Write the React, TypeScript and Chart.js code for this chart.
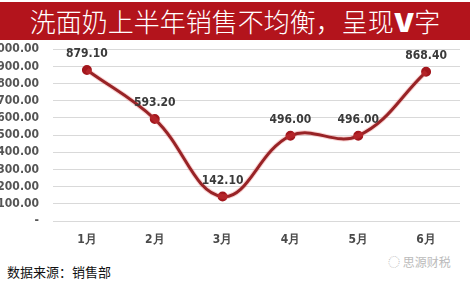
import React, { useEffect, useRef } from "react";
import { Chart, registerables } from "chart.js";

Chart.register(...registerables);

const months = ["1月", "2月", "3月", "4月", "5月", "6月"];
const sales = [879.1, 593.2, 142.1, 496.0, 496.0, 868.4];
const yTicks = [0, 100, 200, 300, 400, 500, 600, 700, 800, 900, 1000];

const NUM_FONT = '"DejaVu Sans Condensed", "Liberation Sans Narrow", sans-serif';

const labelPlugin = {
  id: "pointLabels",
  afterDatasetsDraw(chart: any) {
    const meta = chart.getDatasetMeta(1);
    const ctx = chart.ctx;
    ctx.save();
    ctx.font = `bold 12px ${NUM_FONT}`;
    ctx.fillStyle = "#3a3a3a";
    ctx.textAlign = "center";
    ctx.textBaseline = "middle";
    meta.data.forEach((pt: any, i: number) => {
      ctx.fillText(sales[i].toFixed(2), pt.x, pt.y - 16);
    });
    ctx.restore();
  },
};

export default function App() {
  const ref = useRef<HTMLCanvasElement>(null);
  useEffect(() => {
    document.body.style.margin = "0";
    const chart = new Chart(ref.current!, {
      type: "line",
      data: {
        labels: months,
        datasets: [
          {
            data: sales,
            borderColor: "rgba(230,80,80,0.25)",
            borderWidth: 5,
            tension: 0.4,
            pointRadius: 0,
            fill: false,
          },
          {
            data: sales,
            borderColor: "#7E1519",
            borderWidth: 3,
            tension: 0.4,
            pointRadius: 3.5,
            pointBackgroundColor: "#A3171D",
            pointBorderColor: "#A3171D",
            fill: false,
          },
        ],
      },
      options: {
        responsive: false,
        animation: false,
        layout: { padding: { top: 7, right: 10, bottom: 0, left: 0 } },
        plugins: { legend: { display: false }, tooltip: { enabled: false }, title: { display: false } },
        scales: {
          x: {
            offset: true,
            afterFit: (s: any) => {
              s.height = 29;
            },
            grid: { display: false },
            border: { display: false },
            ticks: {
              color: "#4a4a4a",
              font: { family: NUM_FONT, size: 12, weight: "bold" },
              padding: 4,
            },
          },
          y: {
            min: 0,
            max: 1000,
            afterFit: (s: any) => {
              s.width = 53;
            },
            afterBuildTicks: (s: any) => {
              s.ticks = yTicks.map((v) => ({ value: v }));
            },
            grid: { color: "#d9d9d9", drawTicks: false, lineWidth: 1 },
            border: { display: false },
            ticks: {
              autoSkip: false,
              padding: 14,
              color: "#555555",
              font: { family: NUM_FONT, size: 12, weight: "bold" },
              callback: (v: any) =>
                v === 0
                  ? "-"
                  : Number(v).toLocaleString("en-US", { minimumFractionDigits: 2, maximumFractionDigits: 2 }),
            },
          },
        },
      },
      plugins: [labelPlugin],
    });
    return () => chart.destroy();
  }, []);

  return (
    <div style={{ position: "relative", width: 470, height: 282, background: "#fff", overflow: "hidden" }}>
      <div
        style={{
          position: "absolute",
          top: 2,
          left: 0,
          width: 470,
          height: 38,
          background: "#B3141C",
          color: "#fff",
          fontFamily: '"Noto Sans CJK SC", sans-serif',
          fontSize: 26,
          lineHeight: "38px",
          textAlign: "center",
          fontWeight: 300,
        }}
      >
        洗面奶上半年销售不均衡，呈现<b style={{ fontFamily: "Inter, sans-serif", fontWeight: 900 }}>V</b>字
      </div>
      <canvas ref={ref} width={470} height={222} style={{ position: "absolute", top: 28, left: 0 }} />
      <div
        style={{
          position: "absolute",
          left: 7,
          top: 263,
          fontFamily: '"Noto Sans CJK SC", sans-serif',
          fontSize: 13,
          color: "#111",
          lineHeight: "18px",
        }}
      >
        数据来源：销售部
      </div>
      <div
        style={{
          position: "absolute",
          left: 388,
          top: 253,
          fontFamily: '"Noto Sans CJK SC", sans-serif',
          fontSize: 12,
          color: "#bbbbbb",
          lineHeight: "18px",
        }}
      >
        ◌ 思源财税
      </div>
    </div>
  );
}
